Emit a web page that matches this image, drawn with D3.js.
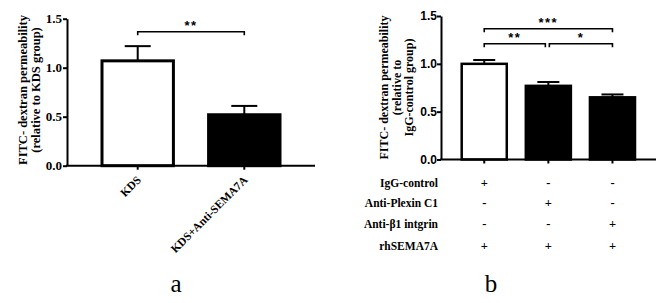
<!DOCTYPE html>
<html>
<head>
<meta charset="utf-8">
<script src="https://cdn.jsdelivr.net/npm/d3@7"></script>
<style>
  body { margin: 0; background: #fff; }
  svg { display: block; }
</style>
</head>
<body>
<svg width="669" height="303"></svg>
<script>
// panel a data
const catsA = ["KDS", "KDS+Anti-SEMA7A"];
const meanA = [1.07, 0.52];
const errA = [0.15, 0.09];
const fillA = ["#fff", "#000"];
const sigA = [{ from: 0, to: 1, y: 1.367, label: "**" }];

// panel b data
const catsB = ["g1", "g2", "g3"];
const meanB = [1.00, 0.77, 0.65];
const errB = [0.04, 0.04, 0.03];
const fillB = ["#fff", "#000", "#000"];
const sigB = [
  { from: 0, to: 2, y: 1.367, label: "***" },
  { from: 0, to: 1, y: 1.21, label: "**", insetR: 3 },
  { from: 1, to: 2, y: 1.21, label: "*", insetL: 1 }
];
const rowLabels = ["IgG-control", "Anti-Plexin C1", "Anti-\u03B21 intgrin", "rhSEMA7A"];
const rowSigns = [
  ["+", "-", "-"],
  ["-", "+", "-"],
  ["-", "-", "+"],
  ["+", "+", "+"]
];
const yTicks = [0, 0.5, 1.0, 1.5];

const serif = "'Liberation Serif', 'Times New Roman', serif";
const sans = "'Liberation Sans', Arial, sans-serif";
const svg = d3.select("svg");

function panel(o) {
  const g = svg.append("g");
  const y = d3.scaleLinear().domain([0, 1.5]).range([o.y0, o.y1]);
  const x = d3.scaleBand().domain(o.cats).range(o.xr).paddingInner(o.pad).paddingOuter(0);
  const cx = d => x(d) + x.bandwidth() / 2;

  // y axis
  const ax = g.append("g").attr("transform", `translate(${o.axX},0)`)
    .call(d3.axisLeft(y).tickValues(yTicks).tickFormat(d3.format(".1f")).tickSize(4).tickSizeOuter(0).tickPadding(o.tickPad));
  ax.select(".domain").attr("stroke-width", 2).attr("stroke", "#000");
  ax.selectAll(".tick line").attr("stroke-width", 2).attr("stroke", "#000");
  ax.selectAll(".tick text").attr("font-family", o.tickFont).attr("font-weight", "bold")
    .attr("font-size", o.tickSize).attr("fill", "#000");

  // bars
  g.selectAll(".bar").data(o.cats).join("rect")
    .attr("x", d => x(d)).attr("width", x.bandwidth())
    .attr("y", (d, i) => y(o.mean[i])).attr("height", (d, i) => y(0) - y(o.mean[i]))
    .attr("fill", (d, i) => o.fill[i]).attr("stroke", "#000").attr("stroke-width", o.barStroke);

  // error bars
  o.cats.forEach((d, i) => {
    const top = y(o.mean[i] + o.err[i]);
    g.append("line").attr("x1", cx(d)).attr("x2", cx(d)).attr("y1", y(o.mean[i])).attr("y2", top)
      .attr("stroke", "#000").attr("stroke-width", 2);
    g.append("line").attr("x1", cx(d) - o.cap / 2).attr("x2", cx(d) + o.cap / 2).attr("y1", top).attr("y2", top)
      .attr("stroke", "#000").attr("stroke-width", 2);
  });

  // x axis line and ticks
  g.append("line").attr("x1", o.axX - 1).attr("x2", o.axEnd).attr("y1", y(0)).attr("y2", y(0))
    .attr("stroke", "#000").attr("stroke-width", 2);
  g.selectAll(".xt").data(o.cats).join("line")
    .attr("x1", cx).attr("x2", cx).attr("y1", y(0)).attr("y2", y(0) + 4)
    .attr("stroke", "#000").attr("stroke-width", 2);

  // significance brackets
  o.sig.forEach(s => {
    const xa = cx(o.cats[s.from]) + (s.insetL || 0);
    const xb = cx(o.cats[s.to]) - (s.insetR || 0);
    const yy = y(s.y);
    g.append("path").attr("d", `M${xa},${yy + 3.5}V${yy}H${xb}V${yy + 3.5}`)
      .attr("fill", "none").attr("stroke", "#000").attr("stroke-width", 1.6);
    g.append("text").attr("x", (xa + xb) / 2).attr("y", yy - 2)
      .attr("text-anchor", "middle").attr("font-family", sans).attr("font-weight", "bold")
      .attr("font-size", 13).attr("letter-spacing", 1.5).text(s.label);
  });

  // y title
  o.title.forEach((t, i) => {
    g.append("text")
      .attr("transform", `translate(${o.titleX[i]},${o.titleY}) rotate(-90)`)
      .attr("text-anchor", "middle").attr("dy", "0.35em")
      .attr("font-family", serif).attr("font-weight", "bold").attr("font-size", o.titleSize)
      .text(t);
  });

  // panel letter
  g.append("text").attr("x", o.letterX).attr("y", 292).attr("text-anchor", "middle")
    .attr("font-family", serif).attr("font-size", 25).text(o.letter);

  return { g, x, y, cx };
}

const A = panel({
  cats: catsA, mean: meanA, err: errA, fill: fillA, sig: sigA,
  y0: 165.7, y1: 18.7, xr: [102, 280], pad: 0.33, axX: 67, axEnd: 315,
  tickFont: serif, tickSize: 13, tickPad: 1, barStroke: 3, cap: 26,
  title: ["FITC- dextran permeability", "(relative to KDS group)"],
  titleX: [23, 36], titleY: 90, titleSize: 12.5,
  letter: "a", letterX: 176
});

// rotated category labels for panel a
A.g.selectAll(".xl").data(catsA).join("text")
  .attr("transform", d => `translate(${A.cx(d) + 4},${A.y(0) + 15}) rotate(-45)`)
  .attr("text-anchor", "end").attr("font-family", serif).attr("font-weight", "bold")
  .attr("font-size", 11.5).text(d => d);

const B = panel({
  cats: catsB, mean: meanB, err: errB, fill: fillB, sig: sigB,
  y0: 159.5, y1: 16, xr: [461.7, 635], pad: 0.297, axX: 441, axEnd: 656,
  tickFont: sans, tickSize: 12, tickPad: 0, barStroke: 2.5, cap: 22,
  title: ["FITC- dextran permeability", "(relative to", "IgG-control group)"],
  titleX: [384, 397, 409], titleY: 87.5, titleSize: 12,
  letter: "b", letterX: 491
});

// condition table under panel b
const rowY = [183, 202.5, 223.5, 245.5];
rowLabels.forEach((lab, r) => {
  B.g.append("text").attr("x", 438).attr("y", rowY[r]).attr("dy", "0.35em")
    .attr("text-anchor", "end").attr("font-family", serif).attr("font-weight", "bold")
    .attr("font-size", 11.5).text(lab);
  rowSigns[r].forEach((s, c) => {
    B.g.append("text").attr("x", B.cx(catsB[c])).attr("y", rowY[r]).attr("dy", "0.35em")
      .attr("text-anchor", "middle").attr("font-family", serif).attr("font-weight", "bold")
      .attr("font-size", 12.5).text(s);
  });
});
</script>
</body>
</html>
